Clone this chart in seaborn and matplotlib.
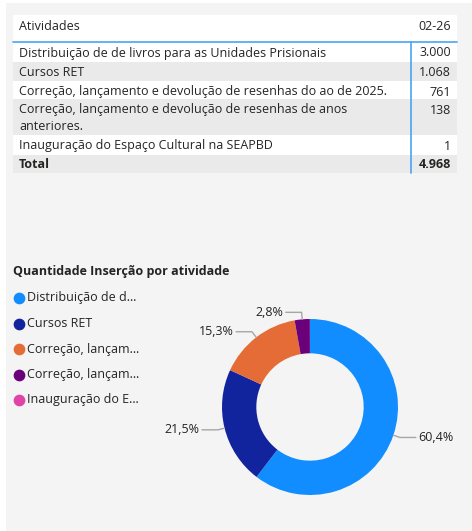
import numpy as np
import matplotlib
matplotlib.use("Agg")
import matplotlib.pyplot as plt
from matplotlib.patches import Rectangle
import seaborn as sns

# dados da tabela / rosca
atividades = ["Distribuição de de livros para as Unidades Prisionais",
              "Cursos RET",
              "Correção, lançamento e devolução de resenhas do ao de 2025.",
              "Correção, lançamento e devolução de resenhas de anos\nanteriores.",
              "Inauguração do Espaço Cultural na SEAPBD"]
quantidades = [3000, 1068, 761, 138, 1]
cabecalho = ["Atividades", "02-26"]
legenda = ["Distribuição de d…", "Cursos RET", "Correção, lançam…",
           "Correção, lançam…", "Inauguração do E…"]
titulo = "Quantidade Inserção por atividade"
cores = ["#118DFF", "#12239E", "#E66C37", "#6B007B", "#E044A7"]

W, H = 472, 531

sns.set_theme(style="white")
plt.rcParams["font.family"] = ["Open Sans", "DejaVu Sans"]

def fmt_num(v):
	return f"{v:,}".replace(",", ".")

fig = plt.figure(figsize=(W / 100, H / 100), dpi=100, facecolor="white")

# overlay axes in pixel coords (y down)
ax = fig.add_axes([0, 0, 1, 1])
ax.set_xlim(0, W)
ax.set_ylim(H, 0)
ax.axis("off")

ax.add_patch(Rectangle((6, 3), W - 6, H - 3, color="#f4f4f4", lw=0))

# ---- table ----
x0, x1, xsep = 13, 457, 411
fs = 9.0
txt = "#252423"
ax.add_patch(Rectangle((x0, 15), x1 - x0, 27, color="white", lw=0))
ax.text(19, 26, cabecalho[0], fontsize=fs, va="center", color=txt)
ax.text(451, 26, cabecalho[1], fontsize=fs, va="center", ha="right", color=txt)

row_tops = [42, 62, 81, 99, 135, 155, 173]
for i, (lab, q) in enumerate(zip(atividades, quantidades)):
	top, bot = row_tops[i], row_tops[i + 1]
	bg = "white" if i % 2 == 0 else "#eaeaea"
	ax.add_patch(Rectangle((x0, top), x1 - x0, bot - top, color=bg, lw=0))
	# wrapped row: one line per text, aligned to the top
	for j, linha in enumerate(lab.split("\n")):
		ax.text(19, top + 11 + j * 17, linha, fontsize=fs, va="center", color=txt)
	ax.text(451, top + 11, fmt_num(q), fontsize=fs, va="center", ha="right", color=txt)

top, bot = row_tops[-2], row_tops[-1]
ax.add_patch(Rectangle((x0, top), x1 - x0, bot - top, color="#eaeaea", lw=0))
ax.text(19, top + 10, "Total", fontsize=fs, va="center", fontweight="bold", color=txt)
ax.text(451, top + 10, fmt_num(sum(quantidades)), fontsize=fs, va="center", ha="right",
		fontweight="bold", color=txt)

ax.plot([x0, x1], [42, 42], color="#4aa3f5", lw=1.2)
ax.plot([xsep, xsep], [42, 173], color="#4aa3f5", lw=1.2)

# ---- legend ----
ax.text(13, 272, titulo, fontsize=fs, fontweight="bold", va="center", color=txt)
for i, (lab, c) in enumerate(zip(legenda, cores)):
	y = 298 + i * 25.5
	ax.scatter([19], [y], s=55, color=c, zorder=3)
	ax.text(27, y, lab, fontsize=fs, va="center", color=txt)

# ---- donut ----
cx, cy, R = 310, 407, 88
half = 100
pax = fig.add_axes([(cx - half) / W, (H - cy - half) / H, 2 * half / W, 2 * half / H])
wedges, _ = pax.pie(quantidades, colors=cores, startangle=90, counterclock=False,
					wedgeprops=dict(width=0.39, linewidth=0))
lim = half / R
pax.set_xlim(-lim, lim)
pax.set_ylim(-lim, lim)
pax.axis("off")

total = sum(quantidades)
for w, q in zip(wedges, quantidades):
	pct = q / total * 100
	if pct < 1:
		continue
	ang = np.deg2rad((w.theta1 + w.theta2) / 2)
	ex, ey = np.cos(ang), np.sin(ang)
	bx, by = 1.08 * ex, 1.08 * ey
	side = 1 if ex > 0 else -1
	hx = bx + side * 0.18
	pax.plot([ex, bx, hx], [ey, by, by], color="#a6a6a6", lw=1, clip_on=False)
	pax.text(hx + side * 0.03, by, f"{pct:.1f}%".replace(".", ","), fontsize=fs,
			 ha="left" if side > 0 else "right", va="center", color=txt)

fig.savefig("out.png", dpi=100, facecolor="white")
